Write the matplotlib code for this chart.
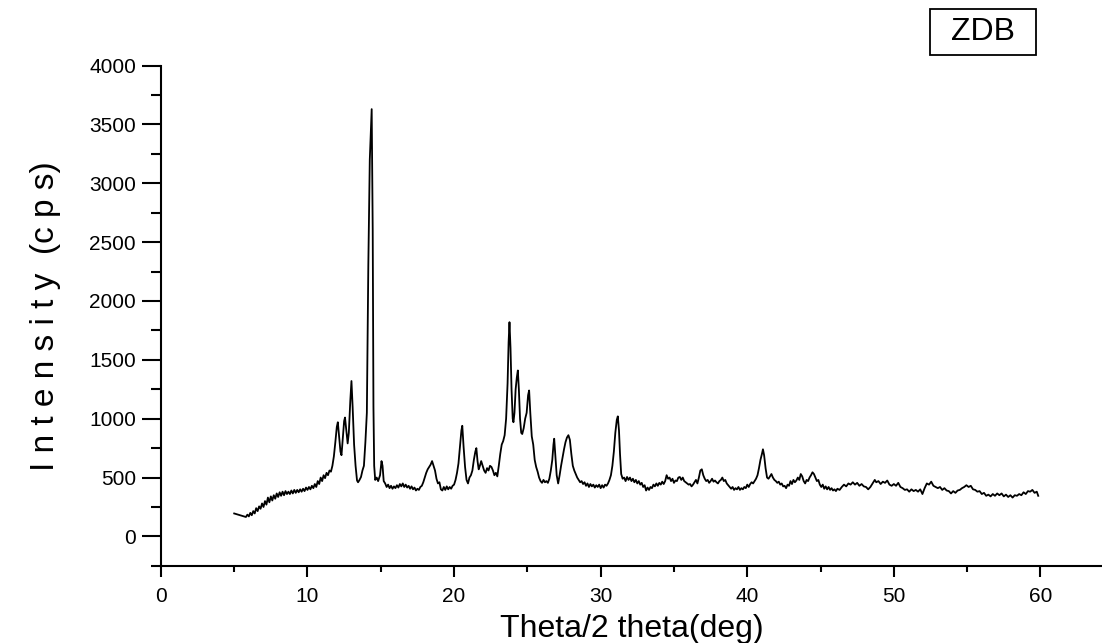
import matplotlib
matplotlib.use("Agg")
import matplotlib.pyplot as plt
from matplotlib.patches import Rectangle
from matplotlib.ticker import MultipleLocator

# XRD pattern (2theta in deg, intensity in cps)
two_theta = [
    5.0, 5.8, 5.9, 6.0, 6.1, 6.2, 6.3, 6.4, 6.5, 6.6, 6.7, 6.8, 6.9, 7.0, 7.1, 7.2, 7.3, 7.4, 7.5, 7.6,
    7.7, 7.8, 7.9, 8.0, 8.1, 8.2, 8.3, 8.4, 8.5, 8.6, 8.7, 8.8, 8.9, 9.0, 9.1, 9.2, 9.3, 9.4, 9.5, 9.6,
    9.7, 9.8, 9.9, 10.0, 10.1, 10.2, 10.3, 10.4, 10.5, 10.6, 10.7, 10.8, 10.9, 11.0, 11.1, 11.2, 11.3,
    11.4, 11.5, 11.6, 11.7, 11.8, 11.9, 12.0, 12.07, 12.15, 12.25, 12.32, 12.4, 12.5, 12.56, 12.65,
    12.74, 12.82, 12.92, 13.0, 13.08, 13.18, 13.28, 13.38, 13.45, 13.55, 13.65, 13.75, 13.85, 13.95,
    14.05, 14.15, 14.25, 14.38, 14.45, 14.5, 14.55, 14.62, 14.72, 14.82, 14.95, 15.05, 15.12, 15.2,
    15.3, 15.4, 15.5, 15.6, 15.7, 15.8, 15.9, 16.0, 16.1, 16.2, 16.3, 16.4, 16.5, 16.6, 16.7, 16.8,
    16.9, 17.0, 17.1, 17.2, 17.3, 17.4, 17.5, 17.6, 17.7, 17.8, 17.9, 18.0, 18.1, 18.2, 18.3, 18.4,
    18.5, 18.6, 18.7, 18.8, 18.9, 19.0, 19.1, 19.2, 19.3, 19.4, 19.5, 19.6, 19.7, 19.8, 19.9, 20.0,
    20.1, 20.2, 20.3, 20.4, 20.5, 20.56, 20.65, 20.75, 20.85, 20.95, 21.05, 21.15, 21.25, 21.35,
    21.45, 21.52, 21.6, 21.68, 21.76, 21.85, 21.95, 22.05, 22.15, 22.25, 22.35, 22.45, 22.55, 22.65,
    22.75, 22.85, 22.95, 23.05, 23.15, 23.25, 23.35, 23.45, 23.55, 23.65, 23.72, 23.78, 23.85, 23.92,
    24.0, 24.05, 24.12, 24.2, 24.28, 24.35, 24.42, 24.5, 24.58, 24.65, 24.75, 24.85, 24.95, 25.05,
    25.12, 25.2, 25.3, 25.4, 25.5, 25.6, 25.7, 25.8, 25.9, 26.0, 26.1, 26.2, 26.3, 26.4, 26.5, 26.6,
    26.7, 26.78, 26.83, 26.9, 27.0, 27.1, 27.2, 27.3, 27.4, 27.5, 27.6, 27.7, 27.8, 27.9, 28.0, 28.1,
    28.2, 28.3, 28.4, 28.5, 28.6, 28.7, 28.8, 28.9, 29.0, 29.1, 29.2, 29.3, 29.4, 29.5, 29.6, 29.7,
    29.8, 29.9, 30.0, 30.1, 30.2, 30.3, 30.4, 30.5, 30.6, 30.7, 30.8, 30.9, 31.0, 31.1, 31.17, 31.25,
    31.32, 31.4, 31.5, 31.6, 31.7, 31.8, 31.9, 32.0, 32.1, 32.2, 32.3, 32.4, 32.5, 32.6, 32.7, 32.8,
    32.9, 33.0, 33.1, 33.2, 33.3, 33.4, 33.5, 33.6, 33.7, 33.8, 33.9, 34.0, 34.1, 34.2, 34.3, 34.4,
    34.5, 34.6, 34.7, 34.8, 34.9, 35.0, 35.1, 35.2, 35.3, 35.4, 35.5, 35.6, 35.7, 35.8, 35.9, 36.0,
    36.1, 36.2, 36.3, 36.4, 36.5, 36.6, 36.7, 36.8, 36.9, 37.0, 37.1, 37.2, 37.3, 37.4, 37.5, 37.6,
    37.7, 37.8, 37.9, 38.0, 38.1, 38.2, 38.3, 38.4, 38.5, 38.6, 38.7, 38.8, 38.9, 39.0, 39.1, 39.2,
    39.3, 39.4, 39.5, 39.6, 39.7, 39.8, 39.9, 40.0, 40.1, 40.2, 40.3, 40.4, 40.5, 40.6, 40.7, 40.8,
    40.9, 41.0, 41.07, 41.15, 41.25, 41.35, 41.45, 41.55, 41.65, 41.75, 41.85, 41.95, 42.05, 42.15,
    42.25, 42.35, 42.45, 42.55, 42.65, 42.75, 42.85, 42.95, 43.05, 43.15, 43.25, 43.35, 43.45, 43.55,
    43.65, 43.75, 43.85, 43.95, 44.05, 44.15, 44.25, 44.35, 44.45, 44.55, 44.65, 44.75, 44.85, 44.95,
    45.05, 45.15, 45.25, 45.35, 45.45, 45.55, 45.65, 45.75, 45.85, 45.95, 46.05, 46.15, 46.3, 46.45,
    46.6, 46.75, 46.9, 47.05, 47.2, 47.35, 47.5, 47.65, 47.8, 47.95, 48.1, 48.25, 48.4, 48.55, 48.7,
    48.8, 48.95, 49.1, 49.25, 49.4, 49.55, 49.7, 49.85, 50.0, 50.15, 50.3, 50.45, 50.6, 50.75, 50.9,
    51.05, 51.2, 51.35, 51.5, 51.65, 51.8, 51.95, 52.1, 52.25, 52.4, 52.55, 52.7, 52.85, 53.0, 53.15,
    53.3, 53.45, 53.6, 53.75, 53.9, 54.05, 54.2, 54.35, 54.5, 54.65, 54.8, 54.95, 55.1, 55.25, 55.4,
    55.55, 55.7, 55.85, 56.0, 56.15, 56.3, 56.45, 56.6, 56.75, 56.9, 57.05, 57.2, 57.35, 57.5, 57.65,
    57.8, 57.95, 58.1, 58.25, 58.4, 58.55, 58.7, 58.85, 59.0, 59.15, 59.3, 59.45, 59.6, 59.75, 59.85,
]
intensity = [
    195, 165, 185, 170, 200, 180, 215, 195, 240, 215, 255, 235, 280, 250, 300, 270, 330, 290, 340, 305,
    350, 320, 365, 335, 375, 345, 380, 350, 385, 360, 380, 360, 390, 365, 395, 370, 395, 375, 400, 380,
    405, 385, 415, 395, 420, 400, 430, 410, 445, 420, 470, 445, 500, 470, 520, 495, 540,
    520, 560, 550, 600, 680, 800, 930, 970, 860, 720, 690, 820, 980, 1010, 900,
    790, 880, 1150, 1320, 1100, 780, 600, 475, 460, 480, 505, 560, 600, 800,
    1050, 2300, 3200, 3630, 2600, 1100, 600, 480, 500, 470, 520, 640, 600, 470,
    450, 420, 440, 410, 430, 405, 425, 410, 435, 415, 445, 425, 450, 420, 440, 415,
    430, 405, 425, 400, 415, 390, 405, 395, 420, 430, 460, 500, 540, 570, 590, 610,
    640, 600, 560, 490, 450, 460, 400, 390, 420, 395, 425, 400, 420, 405, 430, 440,
    480, 540, 620, 760, 900, 940, 760, 590, 480, 450, 500, 520, 560, 650,
    720, 750, 640, 570, 600, 640, 600, 560, 540, 580, 560, 600, 590, 560,
    520, 540, 510, 600, 700, 780, 810, 860, 1000, 1300, 1650, 1820, 1600, 1250,
    1000, 970, 1050, 1250, 1350, 1410, 1250, 1000, 880, 870, 920, 1000, 1050, 1200,
    1240, 1050, 850, 780, 650, 590, 550, 500, 470, 455, 480, 460, 470, 455, 490, 560,
    650, 780, 830, 700, 520, 450, 520, 600, 670, 740, 800, 840, 860, 820, 700, 600,
    560, 530, 500, 480, 460, 470, 445, 460, 430, 450, 420, 445, 425, 440, 415, 435,
    420, 440, 410, 435, 415, 440, 430, 450, 480, 520, 600, 720, 880, 990, 1020, 900,
    700, 530, 490, 500, 470, 505, 480, 500, 470, 490, 460, 480, 450, 470, 440, 455,
    420, 435, 390, 415, 395, 420, 410, 440, 425, 450, 430, 455, 440, 465, 445, 470,
    520, 490, 500, 470, 490, 455, 475, 470, 500, 505, 480, 500, 470, 460, 450, 440,
    445, 425, 440, 460, 480, 450, 500, 560, 570, 520, 490, 470, 480, 455, 470, 490,
    465, 475, 460, 450, 470, 480, 500, 470, 480, 450, 435, 420, 405, 420, 395, 410,
    400, 420, 395, 410, 400, 420, 410, 440, 420, 445, 460, 450, 470, 490, 520, 580,
    650, 700, 740, 690, 580, 500, 490, 510, 530, 500, 480, 470, 455, 465,
    440, 450, 425, 430, 410, 440, 430, 470, 445, 480, 460, 475, 500, 480,
    530, 510, 470, 450, 480, 470, 500, 520, 545, 530, 500, 470, 480, 440,
    420, 440, 405, 425, 400, 420, 395, 410, 390, 400, 385, 405, 395, 420,
    440, 425, 450, 440, 460, 440, 455, 430, 445, 425, 420, 400, 420, 450, 480,
    460, 470, 445, 465, 455, 475, 440, 430, 445, 430, 455, 420, 410, 395, 400,
    380, 400, 385, 395, 380, 400, 360, 410, 450, 440, 465, 430, 420, 410, 420,
    395, 410, 390, 385, 365, 385, 370, 390, 395, 410, 420, 435, 420, 430, 400,
    395, 380, 385, 360, 370, 345, 355, 340, 360, 345, 365, 350, 365, 340, 355,
    335, 350, 330, 350, 345, 360, 350, 375, 360, 385, 380, 395, 370, 380, 345,
]

x_ticks = [0, 10, 20, 30, 40, 50, 60]
y_ticks = [0, 500, 1000, 1500, 2000, 2500, 3000, 3500, 4000]

plt.rcParams['font.family'] = ['Liberation Sans', 'DejaVu Sans']

fig = plt.figure(figsize=(11.02, 6.43), dpi=100)
ax = fig.add_axes([0.146, 0.12, 0.854, 0.778])

ax.plot(two_theta, intensity, color='black', lw=1.3)

ax.set_xlim(0, 64.2)
ax.set_ylim(-250, 4000)
ax.set_xticks(x_ticks)
ax.set_yticks(y_ticks)
ax.xaxis.set_minor_locator(MultipleLocator(5))
ax.yaxis.set_minor_locator(MultipleLocator(250))

for side in ['top', 'right']:
    ax.spines[side].set_visible(False)
for side in ['left', 'bottom']:
    ax.spines[side].set_linewidth(1.5)

ax.tick_params(axis='y', which='major', direction='out', length=14, width=1.5, labelsize=15, pad=4)
ax.tick_params(axis='y', which='minor', direction='out', length=7, width=1.5)
ax.tick_params(axis='x', which='major', direction='out', length=8, width=1.5, labelsize=15, pad=7)
ax.tick_params(axis='x', which='minor', direction='out', length=4, width=1.5)

ax.set_xlabel('Theta/2 theta(deg)', fontsize=23, labelpad=6)
ax.set_ylabel('I n t e n s i t y  (c p s)', fontsize=24, labelpad=20)

# "ZDB" tag in a framed box, top right
fig.patches.append(Rectangle((0.844, 0.9145), 0.096, 0.0715, transform=fig.transFigure,
                             facecolor='white', edgecolor='black', lw=1.3))
fig.text(0.892, 0.950, 'ZDB', fontsize=23, ha='center', va='center')

fig.savefig('out.png', dpi=100)
